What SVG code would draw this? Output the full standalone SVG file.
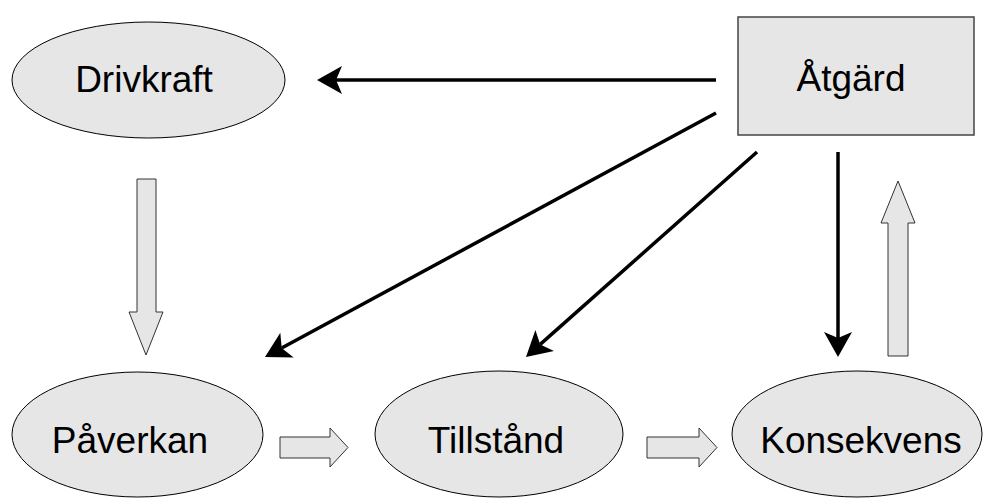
<svg xmlns="http://www.w3.org/2000/svg" width="983" height="499" viewBox="0 0 983 499">
  <style>
    .node { fill: #e6e6e6; stroke: #000; stroke-width: 1; }
    .box { fill: #e6e6e6; stroke: #444; stroke-width: 1.5; }
    .label { font-family: "Liberation Sans", Arial, sans-serif; font-size: 37px; fill: #000; text-anchor: middle; }
    .conn { stroke: #000; stroke-width: 3.5; fill: none; marker-end: url(#head); }
    .block { fill: #e6e6e6; stroke: #333; stroke-width: 1; }
  </style>
  <defs>
    <marker id="head" markerUnits="userSpaceOnUse" markerWidth="30" markerHeight="30" viewBox="0 -15 26 30" refX="6" refY="0" orient="auto" overflow="visible">
      <path d="M0,-14 L25,0 L0,14 L6,0 Z" fill="#000"/>
    </marker>
  </defs>
  <rect width="983" height="499" fill="#fff"/>

  <g id="drivkraft">
    <ellipse class="node" cx="148.5" cy="80" rx="136.5" ry="58"/>
    <text class="label" x="144" y="92">Drivkraft</text>
  </g>
  <g id="atgard">
    <rect class="box" x="738" y="17" width="236" height="118"/>
    <text class="label" x="851" y="91">Åtgärd</text>
  </g>
  <g id="paverkan">
    <ellipse class="node" cx="137.5" cy="434.5" rx="125.5" ry="62.5"/>
    <text class="label" x="130" y="453">Påverkan</text>
  </g>
  <g id="tillstand">
    <ellipse class="node" cx="499" cy="434" rx="124" ry="63"/>
    <text class="label" x="496" y="453">Tillstånd</text>
  </g>
  <g id="konsekvens">
    <ellipse class="node" cx="857" cy="434" rx="125" ry="63"/>
    <text class="label" x="861" y="453">Konsekvens</text>
  </g>

  <g id="connectors">
    <line class="conn" x1="716" y1="80" x2="336" y2="80"/>
    <line class="conn" x1="716" y1="113" x2="281.7" y2="348"/>
    <line class="conn" x1="757" y1="152" x2="540.2" y2="344.4"/>
    <line class="conn" x1="838" y1="152" x2="838" y2="338"/>
    <polygon class="block" points="137,179 156,179 156,312 163,312 146,355 129,312 137,312"/>
    <polygon class="block" points="888,356 908,356 908,223 915,223 898,181 881,223 888,223"/>
    <polygon class="block" points="280,437 330,437 330,428 348,447.5 330,467 330,458 280,458"/>
    <polygon class="block" points="647,437 699,437 699,428 717,447.5 699,467 699,458 647,458"/>
  </g>
</svg>
